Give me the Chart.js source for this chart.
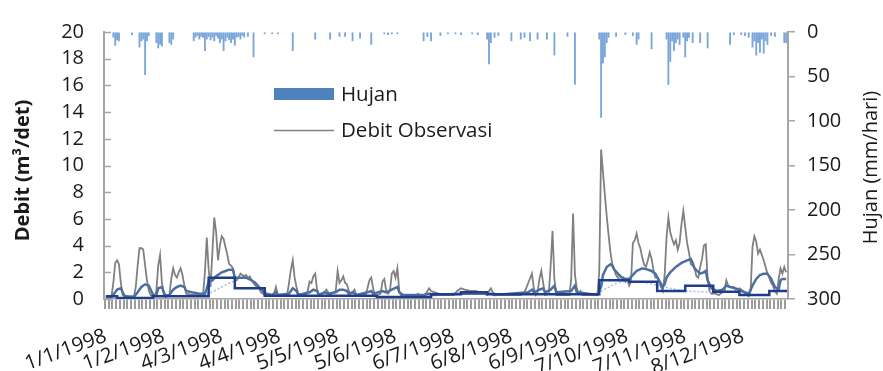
<!DOCTYPE html>
<html><head><meta charset="utf-8">
<script src="https://cdn.jsdelivr.net/npm/chart.js@4.4.1/dist/chart.umd.min.js"></script>
<style>html,body{margin:0;padding:0;background:#fff;}#wrap{position:relative;width:883px;height:371px;}</style>
</head><body><div id="wrap"><canvas id="c" width="883" height="371"></canvas></div>
<script>
// Category label days (day index from 1 Jan 1998) and their labels
const labelDays = [0,31,62,93,124,155,186,217,248,279,310,341];
const tickLabels = ['1/1/1998','1/2/1998','4/3/1998','4/4/1998','5/5/1998','5/6/1998','6/7/1998','6/8/1998','6/9/1998','7/10/1998','7/11/1998','8/12/1998'];

// Hujan (mm/hari): rain days and amounts
const rainDays = [4,5,6,7,14,18,19,20,21,22,23,27,28,29,30,34,35,36,
 47,48,49,50,51,52,53,54,55,56,57,58,59,60,61,62,63,64,65,66,67,68,69,70,71,72,73,74,76,79,
 85,89,92,100,112,120,125,128,132,136,142,149,151,153,156,170,172,174,
 179,183,187,190,196,199,204,205,206,208,210,217,222,224,227,231,236,240,247,251,
 264,265,266,267,268,269,273,278,282,284,285,292,
 300,301,302,303,304,305,306,307,309,310,311,312,314,318,322,
 334,336,340,342,344,346,347,348,349,350,351,352,353,354,356,358,363,364];
const rainMm = [6,15,9,10,3,17,10,8,48,10,4,12,18,14,16,12,14,8,
 10,6,4,8,5,6,21,8,5,9,6,10,4,7,12,8,21,10,6,9,12,8,15,6,5,8,4,6,5,28,
 2,2,2,21,8,8,5,5,10,7,14,2,3,2,2,10,5,10,
 4,2,2,3,2,3,8,36,12,6,4,10,8,6,10,8,8,26,5,59,
 8,96,35,28,12,6,5,3,4,14,8,19,
 8,59,33,10,21,12,8,14,6,28,10,6,12,12,18,
 14,3,3,4,6,17,10,26,12,23,8,24,10,14,4,5,12,12];

// Debit Observasi (m3/det)
const obsDays = [0,3,4,5,6,7,8,9,12,15,16,17,18,19,20,21,22,23,24,26,27,28,29,30,31,34,35,36,37,38,39,40,41,42,43,46,52,53,54,55,56,57,58,59,60,61,62,63,64,65,66,67,68,69,70,71,72,73,74,75,76,77,78,79,80,82,83,85,89,
 90,91,92,97,98,99,100,101,102,103,107,108,109,110,111,112,113,114,117,118,119,120,123,124,125,126,127,128,129,130,131,132,133,134,139,140,141,142,143,144,147,148,149,150,151,152,153,154,155,156,157,158,166,167,168,171,172,173,174,176,178,180,186,188,190,192,195,198,200,202,204,205,206,207,209,
 222,224,226,228,229,230,231,232,233,234,235,237,238,239,240,241,248,249,250,251,252,253,254,255,263,264,265,266,267,268,269,270,271,272,273,274,275,276,277,278,279,280,281,282,283,284,285,286,287,288,289,290,291,292,293,294,295,296,297,298,299,300,301,302,303,304,305,306,307,308,309,310,311,312,313,314,315,316,317,318,319,320,321,322,323,324,326,328,331,332,333,334,336,337,339,341,342,344,345,346,347,348,349,350,351,352,353,354,355,356,357,358,359,360,361,362,363,364];
const obsVals = [0.2,0.2,1.2,2.7,2.9,2.6,1.2,0.3,0.2,0.2,0.9,2.5,3.8,3.8,3.7,2.5,1.4,0.6,0.3,0.2,0.6,2.5,3.3,1.2,0.3,0.3,1.5,2.3,1.8,1.6,2.0,2.3,1.8,1.0,0.4,0.3,0.3,2.0,4.6,2.2,0.9,3.5,6.1,5.0,2.9,4.0,4.7,4.5,3.9,3.3,2.6,2.5,2.3,1.5,1.4,1.6,1.9,1.8,1.7,1.8,1.6,1.7,1.4,1.2,1.0,0.8,0.5,0.3,0.3,
 0.4,0.9,0.3,0.3,1.2,2.2,2.9,1.6,0.9,0.4,0.3,0.6,1.3,1.2,1.7,1.9,0.7,0.3,0.5,0.7,0.5,0.3,0.6,2.1,1.2,1.4,1.7,1.2,1.1,0.6,0.4,0.5,0.7,0.3,0.3,0.8,1.4,1.6,0.8,0.2,0.4,1.3,1.5,0.6,0.4,0.6,1.9,2.1,1.6,2.3,0.6,0.2,0.2,0.4,0.3,0.3,0.6,0.8,0.6,0.5,0.4,0.3,0.3,0.6,0.8,0.7,0.6,0.6,0.5,0.4,0.3,0.6,0.8,0.5,0.3,
 0.3,0.5,1.2,1.9,0.8,0.3,0.5,1.5,2.1,1.2,0.3,0.4,2.5,5.1,1.5,0.3,0.3,1.5,6.4,1.8,0.8,0.4,0.6,0.3,0.3,2.0,11.2,9.5,7.8,6.2,4.8,3.5,2.6,2.2,1.8,1.6,1.4,1.4,1.6,1.3,1.5,1.0,1.3,4.2,4.4,4.9,4.2,3.8,3.1,2.6,2.4,2.9,3.5,3.0,2.2,1.6,1.6,1.3,0.9,0.6,1.8,4.6,6.1,5.0,4.5,4.1,4.4,3.7,4.2,5.6,6.6,5.4,4.2,3.5,2.6,2.5,2.3,1.7,1.6,2.4,3.0,4.0,4.1,1.5,0.6,0.4,0.4,0.3,0.6,1.4,1.0,0.9,0.9,0.7,0.8,0.6,0.4,0.2,0.6,3.9,4.7,4.3,3.4,3.7,3.3,2.9,2.4,1.9,1.6,1.2,1.0,0.6,0.4,1.5,2.3,1.9,2.4,2.0];

// Debit simulasi (smoothed, medium blue)
const simDays = [0,3,5,6,8,9,10,15,17,19,21,23,24,25,26,27,28,30,31,32,34,36,38,40,42,43,46,50,53,54,55,57,59,62,64,66,68,69,72,75,78,80,82,84,86,89,91,92,98,100,102,103,109,111,113,114,117,119,123,125,127,129,130,132,134,140,142,143,148,150,153,156,157,159,170,173,175,190,206,208,226,228,229,232,234,235,238,240,241,249,251,252,263,265,266,268,270,271,272,274,276,278,280,282,284,287,290,292,294,296,298,299,300,302,305,308,311,313,314,315,318,320,321,322,324,327,330,332,334,337,340,344,346,348,350,352,354,356,358,360,361,362,364];
const simVals = [0.15,0.15,0.5,0.7,0.8,0.5,0.2,0.15,0.5,0.9,1.1,1.0,0.7,0.4,0.2,0.3,0.8,0.9,0.5,0.2,0.3,0.7,0.9,1.0,0.9,0.6,0.5,0.4,0.4,0.8,1.3,1.4,1.7,2.0,2.1,2.2,2.2,1.6,1.6,1.6,1.4,1.2,0.9,0.6,0.4,0.3,0.5,0.3,0.4,0.8,0.6,0.3,0.5,0.7,0.6,0.3,0.5,0.4,0.5,0.7,0.7,0.6,0.4,0.5,0.3,0.5,0.6,0.4,0.6,0.5,0.7,0.9,0.5,0.3,0.3,0.4,0.3,0.4,0.4,0.3,0.5,0.7,0.5,0.7,0.8,0.5,0.7,1.0,0.5,0.6,1.0,0.5,0.3,0.9,1.8,2.4,2.6,2.5,2.2,1.9,1.6,1.5,1.5,1.8,2.1,2.3,2.2,2.1,1.9,1.4,0.9,1.1,1.6,2.0,2.4,2.7,2.9,3.0,2.7,2.3,1.9,2.0,2.1,1.4,0.8,0.6,0.7,1.0,0.9,0.8,0.6,0.4,1.0,1.5,1.8,1.9,1.9,1.5,0.9,0.7,1.4,1.5,1.5];

// Debit dasar (stepped, dark navy)
const baseDays = [0,6,25,55,69,85,145,174,190,204,264,280,295,310,325,339,355,364.5];
const baseVals = [0.2,0.07,0.2,1.6,0.8,0.25,0.15,0.35,0.5,0.35,1.4,1.3,0.6,1.0,0.55,0.3,0.6,0.6];

// Light dotted line, two stretches
const dotDaysA = [54,58,62,66,69];
const dotValsA = [0.35,0.6,0.9,1.2,1.35];
const dotDaysB = [263,268,272,276,282,290,296,302,310,318,324];
const dotValsB = [0.4,0.8,1.1,1.3,1.35,1.2,1.0,0.8,0.6,0.55,0.5];

const pts = (xs, ys) => xs.map((d, i) => ({x: d, y: ys[i]}));
const FONT = '"Open Sans", "DejaVu Sans", sans-serif';
const TXT = '#1a1a1a';
const AX = '#a6a6a6';

const extras = {
  id: 'extras',
  afterDraw(chart) {
    const ctx = chart.ctx, ca = chart.chartArea, y = chart.scales.y;
    ctx.save();
    // inside tick marks on left axis
    ctx.strokeStyle = AX; ctx.lineWidth = 1.5;
    for (let v = 0; v <= 20; v += 2) {
      const py = Math.round(y.getPixelForValue(v)) + 0.5;
      ctx.beginPath(); ctx.moveTo(ca.left, py); ctx.lineTo(ca.left + 7, py); ctx.stroke();
    }
    // axis titles
    ctx.fillStyle = TXT; ctx.textAlign = 'center'; ctx.textBaseline = 'middle';
    ctx.save(); ctx.translate(23, (ca.top + ca.bottom) / 2 + 5); ctx.rotate(-Math.PI / 2);
    ctx.font = 'bold 20px ' + FONT; ctx.fillText('Debit (m³/det)', 0, 0); ctx.restore();
    ctx.save(); ctx.translate(871, (ca.top + ca.bottom) / 2 + 2); ctx.rotate(-Math.PI / 2);
    ctx.font = '20px ' + FONT; ctx.fillText('Hujan (mm/hari)', 0, 0); ctx.restore();
    // legend
    ctx.fillStyle = '#4F81BD'; ctx.fillRect(274, 88, 60, 12);
    ctx.strokeStyle = '#7f7f7f'; ctx.lineWidth = 1.5;
    ctx.beginPath(); ctx.moveTo(274, 130.5); ctx.lineTo(334, 130.5); ctx.stroke();
    ctx.fillStyle = TXT; ctx.textAlign = 'left'; ctx.font = '20.5px ' + FONT;
    ctx.fillText('Hujan', 341, 95); ctx.fillText('Debit Observasi', 341, 131);
    ctx.restore();
  }
};

new Chart(document.getElementById('c'), {
  type: 'bar',
  data: {
    datasets: [
      {type: 'line', label: 'Debit dasar', data: pts(baseDays, baseVals), yAxisID: 'y', borderColor: '#1f3d8c', borderWidth: 2.5, pointRadius: 0, stepped: true, order: 1},
      {type: 'line', label: 'Debit simulasi', data: pts(simDays, simVals), yAxisID: 'y', borderColor: '#4d6f9f', borderWidth: 2.5, pointRadius: 0, tension: 0, order: 2},
      {type: 'line', label: 'a', data: pts(dotDaysA, dotValsA), yAxisID: 'y', borderColor: '#a9bfdf', borderWidth: 1.5, borderDash: [2, 2], pointRadius: 0, order: 3},
      {type: 'line', label: 'b', data: pts(dotDaysB, dotValsB), yAxisID: 'y', borderColor: '#a9bfdf', borderWidth: 1.5, borderDash: [2, 2], pointRadius: 0, order: 3},
      {type: 'line', label: 'Debit Observasi', data: pts(obsDays, obsVals), yAxisID: 'y', borderColor: '#808080', borderWidth: 1.8, pointRadius: 0, tension: 0, order: 4},
      {type: 'bar', label: 'Hujan', data: pts(rainDays, rainMm), yAxisID: 'y2', backgroundColor: '#79a5da', barThickness: 1.2, order: 5}
    ]
  },
  options: {
    responsive: false, animation: false, devicePixelRatio: 1,
    layout: {padding: {top: 14, left: 0, right: 0, bottom: 0}},
    plugins: {legend: {display: false}, tooltip: {enabled: false}},
    scales: {
      x: {
        type: 'linear', min: -0.5, max: 364.5,
        afterBuildTicks: s => { s.ticks = []; for (let d = 0; d < 365; d += 1) s.ticks.push({value: d}); },
        afterFit: s => { s.height = 72; },
        ticks: {autoSkip: false, maxRotation: 20, minRotation: 20, padding: 15, color: TXT, font: {family: FONT, size: 20.5},
          callback: v => { const i = labelDays.indexOf(v); return i >= 0 ? tickLabels[i] : ''; }},
        grid: {drawOnChartArea: false, drawTicks: true, tickLength: 10, lineWidth: 2,
          color: c => (c.tick && c.tick.value % 2 === 0) ? '#9c9c9c' : 'rgba(0,0,0,0)'},
        border: {color: AX, width: 1.5}
      },
      y: {
        position: 'left', min: 0, max: 20,
        afterFit: s => { s.width = 104; },
        ticks: {stepSize: 2, autoSkip: false, padding: 20, color: TXT, font: {family: FONT, size: 20}},
        grid: {drawOnChartArea: false, drawTicks: false},
        border: {color: AX, width: 2}
      },
      y2: {
        position: 'right', min: 0, max: 300, reverse: true,
        afterFit: s => { s.width = 95; },
        ticks: {stepSize: 50, autoSkip: false, padding: 12, color: TXT, font: {family: FONT, size: 20}},
        grid: {drawOnChartArea: false, drawTicks: true, tickLength: 7, color: AX, lineWidth: 1.5},
        border: {color: AX, width: 2}
      }
    }
  },
  plugins: [extras]
});
</script></body></html>
